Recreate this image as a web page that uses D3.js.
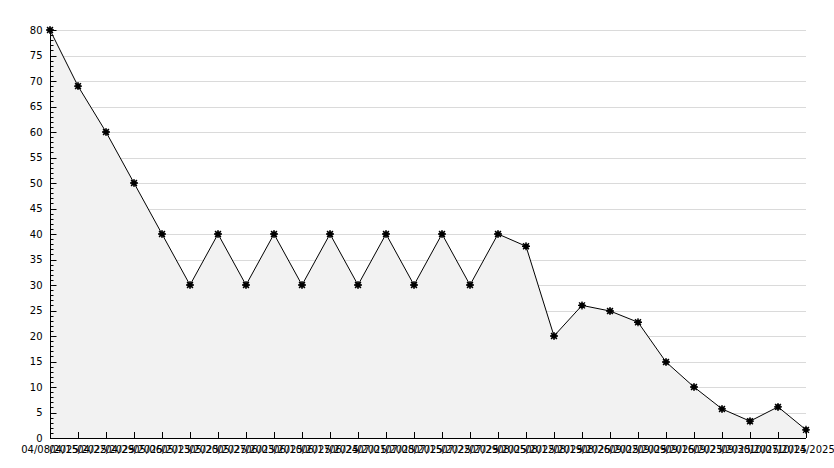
<!DOCTYPE html>
<html><head><meta charset="utf-8">
<script src="https://cdn.jsdelivr.net/npm/d3@7/dist/d3.min.js"></script>
<style>
body{margin:0;background:#fff;}
svg{display:block;}
text{font-family:"DejaVu Sans",sans-serif;font-size:10px;fill:#000;}
</style></head><body>
<svg id="chart" width="834" height="468"></svg>
<script>
const dates = ["04/08/2025","04/15/2025","04/22/2025","04/29/2025","05/06/2025","05/13/2025","05/20/2025","05/27/2025","06/03/2025","06/10/2025","06/17/2025","06/24/2025","07/01/2025","07/08/2025","07/15/2025","07/22/2025","07/29/2025","08/05/2025","08/12/2025","08/19/2025","08/26/2025","09/02/2025","09/09/2025","09/16/2025","09/23/2025","09/30/2025","10/07/2025","10/14/2025"];
const values = [80,69,60,50,40,30,40,30,40,30,40,30,40,30,40,30,40,37.6,20,26,24.9,22.7,14.9,10,5.7,3.3,6.1,1.6];
const yTicks = [0,5,10,15,20,25,30,35,40,45,50,55,60,65,70,75,80];

const svg = d3.select("#chart");
const x = d3.scalePoint().domain(d3.range(dates.length)).range([50,806]);
const y = d3.scaleLinear().domain([0,80]).range([438,30]);

// gridlines
svg.append("g").selectAll("line").data(yTicks.filter(d=>d>0)).join("line")
  .attr("x1",50).attr("x2",806).attr("y1",d=>Math.round(y(d))+0.5).attr("y2",d=>Math.round(y(d))+0.5)
  .attr("stroke","#dadada").attr("stroke-width",1);

// area
const area = d3.area().x((d,i)=>x(i)).y0(y(0)).y1(d=>y(d));
svg.append("path").datum(values).attr("d",area).attr("fill","#f2f2f2");

// line
const line = d3.line().x((d,i)=>x(i)).y(d=>y(d));
svg.append("path").datum(values).attr("d",line).attr("fill","none").attr("stroke","#000").attr("stroke-width",1);

// y axis
const yAxis = svg.append("g").attr("transform","translate(50.5,0)");
yAxis.append("line").attr("y1",30).attr("y2",438).attr("stroke","#000");
yAxis.selectAll("line.minor").data(d3.range(0,81)).join("line").attr("class","minor")
  .attr("x1",0).attr("x2",d=>d%5===0?6:3).attr("y1",d=>Math.round(y(d))+0.5).attr("y2",d=>Math.round(y(d))+0.5).attr("stroke","#000");
yAxis.selectAll("text").data(yTicks).join("text")
  .attr("x",-8).attr("y",d=>y(d)).attr("dy","0.35em").attr("text-anchor","end").text(d=>d);

// x axis
const xAxis = svg.append("g");
xAxis.append("line").attr("x1",50).attr("x2",806).attr("y1",438.5).attr("y2",438.5).attr("stroke","#000");
xAxis.selectAll("line.t").data(d3.range(dates.length)).join("line").attr("class","t")
  .attr("x1",d=>Math.round(x(d))+0.5).attr("x2",d=>Math.round(x(d))+0.5).attr("y1",432).attr("y2",438).attr("stroke","#000");
xAxis.selectAll("text").data(dates).join("text")
  .attr("x",(d,i)=>x(i)).attr("y",453).attr("text-anchor","middle").text(d=>d);

// markers
const star = d3.symbol().type(d3.symbolStar).size(45);
svg.append("g").selectAll("g").data(values).join("g")
  .attr("transform",(d,i)=>`translate(${x(i)},${y(d)})`)
  .each(function(){
    const g=d3.select(this);
    g.append("circle").attr("r",2.8).attr("fill","#000");
    g.append("path").attr("d","M-4,0H4M0,-4V4M-3,-3L3,3M-3,3L3,-3").attr("stroke","#000").attr("stroke-width",1.3);
  });
</script>
</body></html>
